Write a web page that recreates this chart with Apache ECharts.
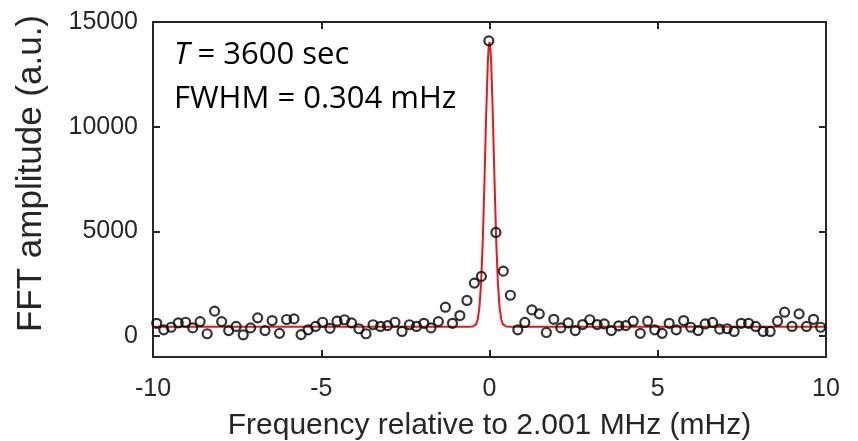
<!DOCTYPE html>
<html>
<head>
<meta charset="utf-8">
<script src="https://cdn.jsdelivr.net/npm/echarts@6/dist/echarts.min.js"></script>
<style>
  html, body { margin: 0; padding: 0; background: #fff; }
  #chart { width: 858px; height: 441px; }
</style>
</head>
<body>
<div id="chart"></div>
<script>
// Measured FFT spectrum (frequency offset in mHz, amplitude in a.u.)
const freq = [
  -9.89, -9.68, -9.46, -9.25, -9.03, -8.82, -8.60, -8.39, -8.17, -7.96,
  -7.75, -7.53, -7.32, -7.10, -6.89, -6.67, -6.46, -6.24, -6.03, -5.81,
  -5.60, -5.39, -5.17, -4.96, -4.74, -4.53, -4.31, -4.10, -3.88, -3.67,
  -3.46, -3.24, -3.03, -2.81, -2.60, -2.38, -2.17, -1.95, -1.74, -1.52,
  -1.31, -1.10, -0.88, -0.67, -0.45, -0.24, -0.02, 0.19, 0.41, 0.62,
  0.84, 1.05, 1.26, 1.48, 1.69, 1.91, 2.12, 2.34, 2.55, 2.77,
  2.98, 3.20, 3.41, 3.62, 3.84, 4.05, 4.27, 4.48, 4.70, 4.91,
  5.13, 5.34, 5.55, 5.77, 5.98, 6.20, 6.41, 6.63, 6.84, 7.06,
  7.27, 7.48, 7.70, 7.91, 8.13, 8.34, 8.56, 8.77, 8.99, 9.20,
  9.42, 9.63, 9.84
];
const amplitude = [
  610, 300, 420, 630, 660, 390, 690, 110, 1190, 690,
  260, 460, 60, 390, 870, 260, 740, 130, 790, 820,
  70, 300, 460, 660, 370, 710, 780, 630, 350, 110,
  540, 460, 500, 660, 220, 540, 460, 610, 390, 690,
  1380, 610, 980, 1700, 2530, 2850, 14100, 4950, 3100, 1950,
  300, 650, 1250, 1060, 170, 800, 390, 630, 260, 550,
  780, 550, 580, 260, 490, 500, 710, 130, 710, 300,
  130, 610, 300, 740, 420, 260, 580, 650, 330, 350,
  220, 610, 610, 460, 220, 220, 710, 1140, 460, 1060,
  460, 800, 420
];

// Fitted line shape (frequency offset in mHz, amplitude in a.u.)
const fitFreq = [
  -10, -0.6, -0.5, -0.45, -0.4, -0.35, -0.3, -0.25, -0.2, -0.15, -0.1, -0.05, -0.025,
  0, 0.025, 0.05, 0.1, 0.15, 0.2, 0.25, 0.3, 0.35, 0.4, 0.45, 0.5, 0.6, 10
];
const fitAmp = [
  450, 450, 458, 481, 561, 793, 1360, 2530, 4540, 7370, 10520, 13070, 13800,
  14050, 13800, 13070, 10520, 7370, 4540, 2530, 1360, 793, 561, 481, 458, 450, 450
];

// Axis ticks
const xTicks = [-10, -5, 0, 5, 10];
const yTicks = [0, 5000, 10000, 15000];

const axisColor = '#262626';
const labelFont = 'Liberation Sans, Arial, sans-serif';

const chart = echarts.init(document.getElementById('chart'), null, { renderer: 'canvas' });

const xBase = {
  type: 'value',
  min: -10,
  max: 10,
  interval: 5,
  axisLine: { show: true, onZero: false, lineStyle: { color: axisColor, width: 2 } },
  axisTick: { show: true, inside: true, length: 7, lineStyle: { color: axisColor, width: 2 } },
  splitLine: { show: false }
};
const yBase = {
  type: 'value',
  min: -1000,
  max: 15000,
  axisLine: { show: true, onZero: false, lineStyle: { color: axisColor, width: 2 } },
  axisTick: { show: true, inside: true, length: 7, customValues: yTicks, lineStyle: { color: axisColor, width: 2 } },
  splitLine: { show: false }
};

chart.setOption({
  animation: false,
  backgroundColor: '#fff',
  grid: { left: 153, right: 32, top: 22, bottom: 84, containLabel: false, outerBoundsMode: 'none' },
  xAxis: [
    Object.assign({}, xBase, {
      position: 'bottom',
      name: 'Frequency relative to 2.001 MHz (mHz)',
      nameLocation: 'middle',
      nameGap: 54,
      nameTextStyle: { color: axisColor, fontSize: 30, fontFamily: labelFont },
      axisLabel: {
        show: true, margin: 20, color: axisColor, fontSize: 25, fontFamily: labelFont,
        customValues: xTicks,
        formatter: v => String(v)
      }
    }),
    Object.assign({}, xBase, {
      position: 'top',
      axisLabel: { show: false }
    })
  ],
  yAxis: [
    Object.assign({}, yBase, {
      position: 'left',
      name: 'FFT amplitude (a.u.)',
      nameLocation: 'middle',
      nameGap: 104,
      nameTextStyle: { color: axisColor, fontSize: 35, fontFamily: labelFont, padding: [0, 0, 0, 32] },
      axisLabel: {
        show: true, margin: 15, color: axisColor, fontSize: 25, fontFamily: labelFont,
        customValues: yTicks,
        formatter: v => String(v)
      }
    }),
    Object.assign({}, yBase, {
      position: 'right',
      axisLabel: { show: false }
    })
  ],
  series: [
    {
      name: 'fit',
      type: 'line',
      xAxisIndex: 0,
      yAxisIndex: 0,
      data: fitFreq.map((f, i) => [f, fitAmp[i]]),
      showSymbol: false,
      lineStyle: { color: '#f01414', width: 2 },
      z: 2
    },
    {
      name: 'data',
      type: 'scatter',
      xAxisIndex: 0,
      yAxisIndex: 0,
      data: freq.map((f, i) => [f, amplitude[i]]),
      symbol: 'circle',
      symbolSize: 9,
      itemStyle: { color: 'rgba(0,0,0,0)', borderColor: '#000', borderWidth: 2.2 },
      z: 3
    }
  ],
  graphic: [
    {
      type: 'text',
      left: 174,
      top: 40,
      style: {
        text: '{i|T} = 3600 sec',
        font: '31px "Open Sans", sans-serif',
        fill: '#000',
        rich: { i: { fontStyle: 'italic', fontSize: 31, fontFamily: 'Open Sans', fill: '#000' } }
      }
    },
    {
      type: 'text',
      left: 174,
      top: 84,
      style: {
        text: 'FWHM = 0.304 mHz',
        font: '31px "Open Sans", sans-serif',
        fill: '#000'
      }
    }
  ]
});
</script>
</body>
</html>
